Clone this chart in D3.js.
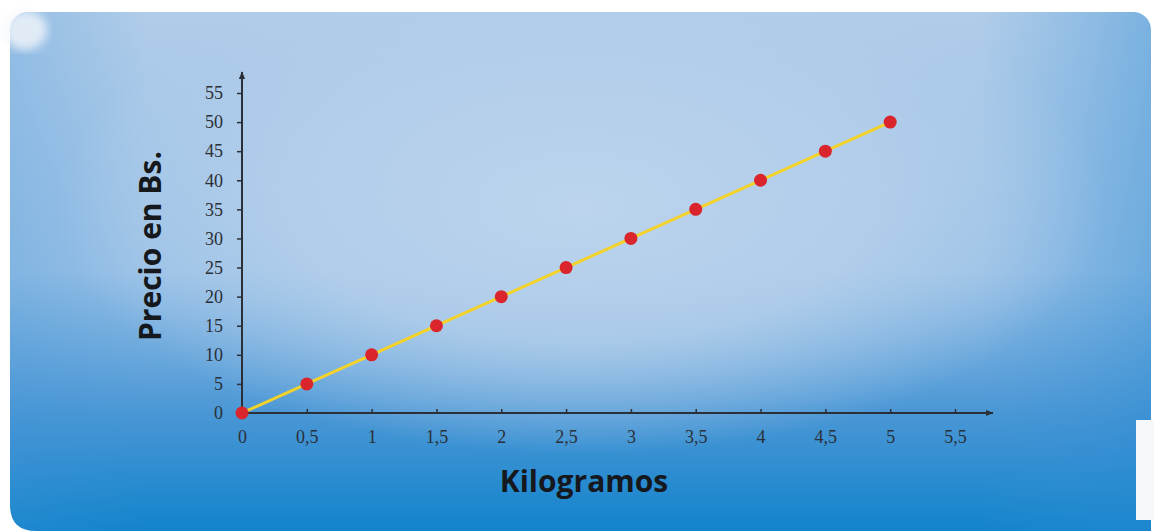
<!DOCTYPE html>
<html><head><meta charset="utf-8">
<script src="https://cdn.jsdelivr.net/npm/d3@7"></script>
<style>html,body{margin:0;padding:0;background:#fff;}svg{display:block;}</style>
</head><body>
<svg id="chart" width="1154" height="531"></svg>
<script>
const kilos = [0, 0.5, 1, 1.5, 2, 2.5, 3, 3.5, 4, 4.5, 5];
const precios = [0, 5, 10, 15, 20, 25, 30, 35, 40, 45, 50];
const xTicks = [0, 0.5, 1, 1.5, 2, 2.5, 3, 3.5, 4, 4.5, 5, 5.5];
const yTicks = [0, 5, 10, 15, 20, 25, 30, 35, 40, 45, 50, 55];
const xTitle = "Kilogramos";
const yTitle = "Precio en Bs.";

const svg = d3.select("#chart");
const defs = svg.append("defs");
const lin = defs.append("linearGradient").attr("id","bgLin").attr("x1",0).attr("y1",0).attr("x2",0).attr("y2",1);
lin.append("stop").attr("offset","0%").attr("stop-color","#b0cce9");
lin.append("stop").attr("offset","48%").attr("stop-color","#98c0e6");
lin.append("stop").attr("offset","75%").attr("stop-color","#4896d5");
lin.append("stop").attr("offset","100%").attr("stop-color","#0880ca");
const rad = defs.append("radialGradient").attr("id","bgRad")
  .attr("cx","0.5").attr("cy","0.36").attr("r","0.46");
rad.append("stop").attr("offset","0%").attr("stop-color","#bcd4ed").attr("stop-opacity",1);
rad.append("stop").attr("offset","55%").attr("stop-color","#b6d0eb").attr("stop-opacity",0.8);
rad.append("stop").attr("offset","100%").attr("stop-color","#b3cfeb").attr("stop-opacity",0);
const side = defs.append("linearGradient").attr("id","bgSide").attr("x1",0).attr("y1",0).attr("x2",1).attr("y2",0);
side.append("stop").attr("offset","0%").attr("stop-color","#3f93d6").attr("stop-opacity",0.25);
side.append("stop").attr("offset","12%").attr("stop-color","#3f93d6").attr("stop-opacity",0);
side.append("stop").attr("offset","85%").attr("stop-color","#3f93d6").attr("stop-opacity",0);
side.append("stop").attr("offset","100%").attr("stop-color","#2a8bd2").attr("stop-opacity",0.4);
defs.append("filter").attr("id","blur").append("feGaussianBlur").attr("stdDeviation",5);

const panel = {x:10, y:12, w:1141, h:540, r:18};
["url(#bgLin)","url(#bgSide)","url(#bgRad)"].forEach(f=>{
  svg.append("rect").attr("x",panel.x).attr("y",panel.y).attr("width",panel.w).attr("height",panel.h)
    .attr("rx",panel.r).attr("fill",f);
});
svg.append("path").attr("d","M0,531 L0,505 L10,505 Q10,531 36,531 Z").attr("fill","#fff");
// top-left worn corner
svg.append("ellipse").attr("cx",25).attr("cy",30).attr("rx",22).attr("ry",20).attr("fill","#f4f7fb").attr("opacity",0.8).attr("filter","url(#blur)");
svg.append("rect").attr("x",1136).attr("y",420).attr("width",18).attr("height",100).attr("fill","#f6f8fa");

const x = d3.scaleLinear().domain([0, 5.5]).range([242, 955]);
const y = d3.scaleLinear().domain([0, 55]).range([413, 93]);

const axisColor = "#2a2f38";
defs.append("marker").attr("id","arr").attr("viewBox","0 0 10 10").attr("refX",9).attr("refY",5)
  .attr("markerWidth",8).attr("markerHeight",8).attr("orient","auto").attr("markerUnits","userSpaceOnUse")
  .append("path").attr("d","M0,1 L10,5 L0,9 Z").attr("fill",axisColor);

svg.append("line").attr("x1",x(0)).attr("x2",993).attr("y1",y(0)).attr("y2",y(0))
  .attr("stroke",axisColor).attr("stroke-width",2).attr("marker-end","url(#arr)");
svg.append("line").attr("x1",x(0)).attr("x2",x(0)).attr("y1",y(0)).attr("y2",72)
  .attr("stroke",axisColor).attr("stroke-width",2).attr("marker-end","url(#arr)");

const fmt = d => String(d).replace(".", ",");
const xAxis = d3.axisBottom(x).tickValues(xTicks).tickSize(4).tickFormat(fmt);
const gx = svg.append("g").attr("transform",`translate(0,${y(0)-4})`).call(xAxis);
gx.select(".domain").remove();
gx.selectAll("line").attr("stroke",axisColor).attr("stroke-width",1.5);
gx.selectAll("text").attr("dy",0).attr("y",34).attr("fill","#2b2f36")
  .style("font-family","'Liberation Serif','DejaVu Serif',serif").style("font-size","18px");

const yAxis = d3.axisLeft(y).tickValues(yTicks).tickSize(6).tickFormat(fmt);
const gy = svg.append("g").attr("transform",`translate(${x(0)+1},0)`).call(yAxis);
gy.select(".domain").remove();
gy.selectAll("line").attr("stroke",axisColor).attr("stroke-width",1.5);
gy.selectAll("text").attr("x",-20).attr("fill","#2b2f36")
  .style("font-family","'Liberation Serif','DejaVu Serif',serif").style("font-size","18px");

const pts = kilos.map((k,i)=>[k, precios[i]]);
svg.append("path").datum(pts)
  .attr("d", d3.line().x(d=>x(d[0])).y(d=>y(d[1])))
  .attr("fill","none").attr("stroke","#f3d22a").attr("stroke-width",3);
svg.selectAll("circle.pt").data(pts).enter().append("circle").attr("class","pt")
  .attr("cx",d=>x(d[0])).attr("cy",d=>y(d[1])).attr("r",6.5).attr("fill","#d9252b");

svg.append("text").attr("x",584).attr("y",492).attr("text-anchor","middle")
  .style("font-family","'Open Sans','Liberation Sans',sans-serif").style("font-weight","bold").style("font-size","30px")
  .attr("fill","#15181d").text(xTitle);
svg.append("text").attr("transform","translate(161,246) rotate(-90)").attr("text-anchor","middle")
  .style("font-family","'Open Sans','Liberation Sans',sans-serif").style("font-weight","bold").style("font-size","30px")
  .attr("fill","#15181d").text(yTitle);
</script>
</body></html>
